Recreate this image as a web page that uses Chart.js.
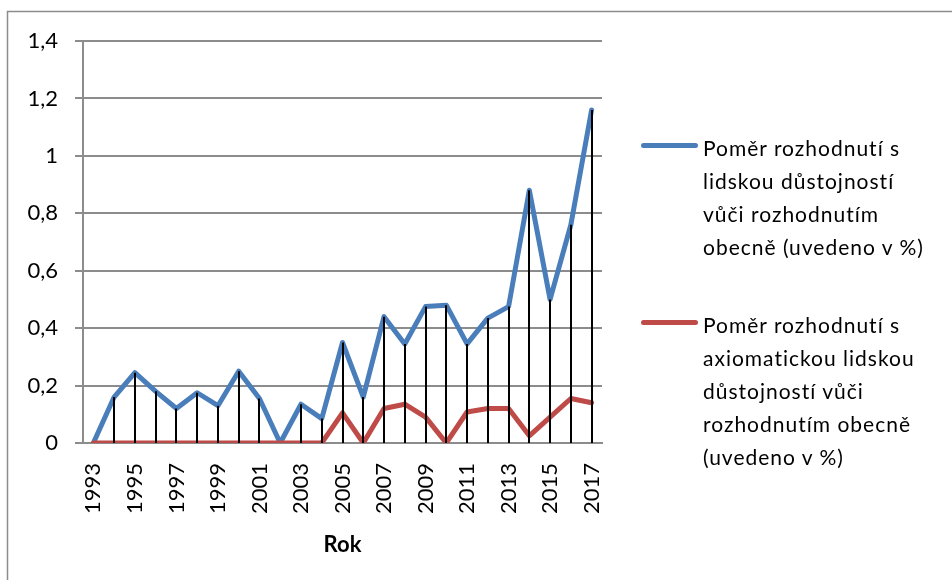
<!DOCTYPE html>
<html>
<head>
<meta charset="utf-8">
<script src="https://cdn.jsdelivr.net/npm/chart.js@4"></script>
<style>
    body { margin: 0; background: #fff; overflow: hidden; }
    #wrap { position: relative; width: 952px; height: 580px; }
    #legend {
        position: absolute; left: 641px; top: 0;
        font-family: Lato, "Open Sans", sans-serif; font-size: 21px; color: #000;
        letter-spacing: 1px;
    }
    .item { position: absolute; left: 0; white-space: nowrap; }
    .swatch { position: absolute; left: 0; width: 57px; height: 5px; border-radius: 3px; }
    .text { position: absolute; left: 62px; line-height: 33px; }
</style>
</head>
<body>
<div id="wrap">
    <canvas id="chart" width="952" height="580"></canvas>
    <div id="legend"></div>
</div>
<script>
// Data
const years = ["1993", "1994", "1995", "1996", "1997", "1998", "1999", "2000", "2001", "2002", "2003", "2004", "2005",
    "2006", "2007", "2008", "2009", "2010", "2011", "2012", "2013", "2014", "2015", "2016", "2017"];
const dignityRatio = [0, 0.16, 0.245, 0.18, 0.12, 0.175, 0.13, 0.25, 0.155, 0, 0.135, 0.085, 0.35,
    0.16, 0.44, 0.345, 0.475, 0.48, 0.345, 0.435, 0.475, 0.88, 0.5, 0.76, 1.16];
const axiomaticRatio = [0, 0, 0, 0, 0, 0, 0, 0, 0, 0, 0, 0, 0.105,
    0, 0.12, 0.135, 0.09, 0, 0.108, 0.12, 0.12, 0.025, 0.09, 0.155, 0.14];
const seriesNames = [
    "Poměr rozhodnutí s lidskou důstojností vůči rozhodnutím obecně (uvedeno v %)",
    "Poměr rozhodnutí s axiomatickou lidskou důstojností vůči rozhodnutím obecně (uvedeno v %)"
];
const legendLines = [
    ["Poměr rozhodnutí s", "lidskou důstojností", "vůči rozhodnutím", "obecně (uvedeno v %)"],
    ["Poměr rozhodnutí s", "axiomatickou lidskou", "důstojností vůči", "rozhodnutím obecně", "(uvedeno v %)"]
];
const seriesColors = ["#4a7ebb", "#be4b48"];

const FONT = "Lato, 'Open Sans', sans-serif";

// Excel style drop lines from the first series down to zero
const dropLines = {
    id: "dropLines",
    afterDatasetsDraw(chart) {
        const meta = chart.getDatasetMeta(0);
        const y0 = chart.scales.y.getPixelForValue(0);
        const ctx = chart.ctx;
        ctx.save();
        ctx.strokeStyle = "#000";
        ctx.lineWidth = 2;
        meta.data.forEach((pt, i) => {
            if (dignityRatio[i] <= 0) return;
            ctx.beginPath();
            ctx.moveTo(Math.round(pt.x), pt.y);
            ctx.lineTo(Math.round(pt.x), y0);
            ctx.stroke();
        });
        ctx.restore();
    }
};

// Outer frame of the chart object
const frame = {
    id: "frame",
    beforeDraw(chart) {
        const ctx = chart.ctx;
        ctx.save();
        ctx.strokeStyle = "#8c8c8c";
        ctx.lineWidth = 1.5;
        ctx.strokeRect(7.5, 11.5, 1000, 700);
        ctx.restore();
    }
};

new Chart(document.getElementById("chart"), {
    type: "line",
    data: {
        labels: years,
        datasets: [
            {
                label: seriesNames[0], data: dignityRatio, borderColor: seriesColors[0],
                borderWidth: 5, pointRadius: 0, tension: 0, order: 1,
                borderCapStyle: "round", borderJoinStyle: "round"
            },
            {
                label: seriesNames[1], data: axiomaticRatio, borderColor: seriesColors[1],
                borderWidth: 5, pointRadius: 0, tension: 0, order: 0,
                borderCapStyle: "round", borderJoinStyle: "round"
            }
        ]
    },
    options: {
        responsive: false,
        animation: false,
        layout: { padding: { left: 0, top: 41, right: 350, bottom: 20 } },
        plugins: { legend: { display: false }, tooltip: { enabled: false } },
        scales: {
            x: {
                offset: true,
                grid: { display: false, drawTicks: false },
                border: { display: true, color: "#8c8c8c", width: 2 },
                ticks: {
                    autoSkip: false, maxRotation: 90, minRotation: 90, padding: 20,
                    color: "#000", font: { family: FONT, size: 22 },
                    callback: (v, i) => (i % 2 === 0 ? years[i] : null)
                },
                title: {
                    display: true, text: "Rok", color: "#000",
                    font: { family: FONT, size: 22, weight: "bold" },
                    padding: { top: 0, bottom: 2 }
                },
                afterFit: (s) => { s.height = 117; }
            },
            y: {
                min: 0, max: 1.4,
                grid: { color: "#8c8c8c", lineWidth: 2, tickLength: 8 },
                border: { display: true, color: "#8c8c8c", width: 2 },
                ticks: {
                    stepSize: 0.2, padding: 17, color: "#000",
                    font: { family: FONT, size: 22 },
                    callback: (v) => String(Number(v.toFixed(1))).replace(".", ",")
                },
                afterFit: (s) => { s.width = 83; }
            }
        }
    },
    plugins: [dropLines, frame]
});

// HTML legend with the wrapped series names
const legendTops = [131, 308];
const swatchTops = [143, 320];
const legendEl = document.getElementById("legend");
legendLines.forEach((lines, k) => {
    const item = document.createElement("div");
    item.className = "item";
    item.style.top = legendTops[k] + "px";
    const sw = document.createElement("div");
    sw.className = "swatch";
    sw.style.background = seriesColors[k];
    sw.style.top = (swatchTops[k] - legendTops[k]) + "px";
    const tx = document.createElement("div");
    tx.className = "text";
    tx.innerHTML = lines.join("<br>");
    item.appendChild(sw);
    item.appendChild(tx);
    legendEl.appendChild(item);
});
</script>
</body>
</html>
